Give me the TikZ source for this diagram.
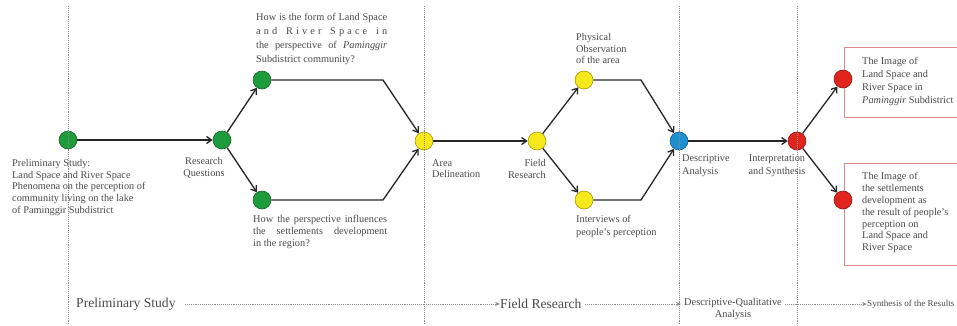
\documentclass[tikz,border=0pt]{standalone}
\usepackage{fontspec}
\setmainfont{Liberation Serif}
\usetikzlibrary{arrows.meta}
\definecolor{txt}{HTML}{4A4A4A}
\definecolor{gr}{HTML}{1E9B3C}
\definecolor{yl}{HTML}{F7E81C}
\definecolor{bl}{HTML}{1E8FD0}
\definecolor{rd}{HTML}{E0241E}
\definecolor{boxred}{HTML}{E08A8A}
\begin{document}
\begin{tikzpicture}[x=1pt,y=-1pt,
  dot/.style={circle,draw=#1!65!black,fill=#1,minimum size=18pt,inner sep=0pt,line width=0.6pt},
  arr/.style={line width=1.3pt,draw=black!85,-{Straight Barb[length=5pt,width=7pt]}},
  vline/.style={densely dotted,draw=black!45,line width=0.9pt},
  hline/.style={densely dotted,draw=black!45,line width=0.9pt,-{Stealth[length=5pt,width=4pt]}},
  lab/.style={font=\fontsize{10.3}{11.8}\selectfont,text=txt,inner sep=0pt,anchor=north west,align=left},
  outbox/.style={draw=boxred,line width=0.7pt}]
\useasboundingbox (0,0) rectangle (957,325);
% output boxes
\draw[outbox] (844,47) rectangle (975,117);
\draw[outbox] (844,163) rectangle (975,265);
% nodes
\node[dot=gr] (n1) at (68,140) {};
\node[dot=gr] (rq) at (222,140) {};
\node[dot=gr] (qt) at (262,80) {};
\node[dot=gr] (qb) at (262,200) {};
\node[dot=yl] (ad) at (424,141) {};
\node[dot=yl] (fr) at (537,141) {};
\node[dot=yl] (po) at (584,80) {};
\node[dot=yl] (iv) at (584,200) {};
\node[dot=bl] (da) at (679,141) {};
\node[dot=rd] (is) at (797,141) {};
\node[dot=rd] (ot) at (843,79) {};
\node[dot=rd] (ob) at (843,200) {};
% vertical dotted separators
\coordinate (v1t) at (68,6); \coordinate (v1b) at (68,325);
\coordinate (v2t) at (424,6); \coordinate (v2b) at (424,325);
\coordinate (v3t) at (679,6); \coordinate (v3b) at (679,325);
\coordinate (v4t) at (797,6); \coordinate (v4b) at (797,325);
\draw[vline] (v1t) -- (v1b);
\draw[vline] (v2t) -- (v2b);
\draw[vline] (v3t) -- (v3b);
\draw[vline] (v4t) -- (v4b);
% connectors
\coordinate (qtk) at (383,80);
\coordinate (qbk) at (383,200);
\coordinate (pok) at (641,80);
\coordinate (ivk) at (641,200);
\draw[arr] (n1) -- (rq);
\draw[arr] (rq) -- (qt);
\draw[arr] (rq) -- (qb);
\draw[arr] (qt) -- (qtk) -- (ad);
\draw[arr] (qb) -- (qbk) -- (ad);
\draw[arr] (ad) -- (fr);
\draw[arr] (fr) -- (po);
\draw[arr] (fr) -- (iv);
\draw[arr] (po) -- (pok) -- (da);
\draw[arr] (iv) -- (ivk) -- (da);
\draw[arr] (da) -- (is);
\draw[arr] (is) -- (ot);
\draw[arr] (is) -- (ob);
% labels
\node[lab] (l1) at (12,159) {Preliminary Study:\\Land Space and River Space\\Phenomena on the perception of\\community living on the lake\\of Paminggir Subdistrict};
\node[lab,anchor=north,align=center] (l2) at (204,157) {Research\\Questions};
\node[lab,font=\fontsize{10.3}{14}\selectfont] (l3) at (256,13) {\makebox[131pt][s]{How is the form of Land Space}\\\hbox to 131pt{a\hfill n\hfill d\hfill{} \hfill R\hfill i\hfill v\hfill e\hfill r\hfill{} \hfill S\hfill p\hfill a\hfill c\hfill e\hfill{} \hfill i\hfill n}\\\makebox[131pt][s]{the perspective of \textit{Paminggir}}\\Subdistrict community?};
\node[lab,font=\fontsize{10.3}{12}\selectfont] (l4) at (253,215) {\makebox[134pt][s]{How the perspective influences}\\\makebox[134pt][s]{the settlements development}\\in the region?};
\node[lab] (l5) at (432,159) {Area\\Delineation};
\node[lab,anchor=north east,align=right] (l6) at (546,159) {Field\\Research};
\node[lab] (l7) at (576,33) {Physical\\Observation\\of the area};
\node[lab,font=\fontsize{10.3}{13}\selectfont] (l8) at (576,215) {Interviews of\\people's perception};
\node[lab,font=\fontsize{10.3}{13}\selectfont] (l9) at (682,154) {Descriptive\\Analysis};
\node[lab,font=\fontsize{10.3}{13}\selectfont,anchor=north,align=center] (l10) at (777,154) {Interpretation\\and Synthesis};
\node[lab,font=\fontsize{10.3}{13}\selectfont] (l11) at (862,57) {The Image of\\Land Space and\\River Space in\\\textit{Paminggir} Subdistrict};
\node[lab,font=\fontsize{10.3}{11.9}\selectfont] (l12) at (862,172) {The Image of\\the settlements\\development as\\the result of people's\\perception on\\Land Space and\\River Space};
% bottom phase row
\node[text=txt,font=\fontsize{13.6}{15}\selectfont,inner sep=0pt,anchor=west] (p1) at (76,304) {Preliminary Study};
\node[text=txt,font=\fontsize{13.6}{15}\selectfont,inner sep=0pt,anchor=west] (p2) at (500,304) {Field Research};
\node[text=txt,font=\fontsize{10.4}{12}\selectfont,inner sep=0pt,anchor=north,align=center] (p3) at (733,298) {Descriptive-Qualitative\\Analysis};
\node[text=txt,font=\fontsize{9.1}{11}\selectfont,inner sep=0pt,anchor=west] (p4) at (867,304) {Synthesis of the Results};
\coordinate (h1s) at (185,304);
\coordinate (h2s) at (585,304);
\coordinate (h3s) at (785,304);
\draw[hline] (h1s) -- (p2.west);
\draw[hline] (h2s) -- (681,304);
\draw[hline] (h3s) -- (p4.west);
\end{tikzpicture}
\end{document}
